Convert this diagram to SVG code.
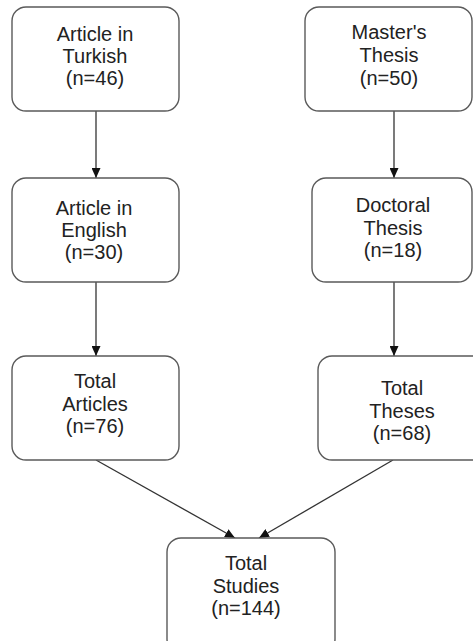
<svg xmlns="http://www.w3.org/2000/svg" width="473" height="641" viewBox="0 0 473 641">
<style>
.box{fill:#fff;stroke:#5a5a5a;stroke-width:1.4}
.lbl{font-family:"Liberation Sans",Arial,sans-serif;font-size:20px;fill:#222;text-anchor:middle}
.conn{stroke:#333;stroke-width:1.3;fill:none;marker-end:url(#ah)}
</style>
<defs>
<marker id="ah" markerUnits="userSpaceOnUse" markerWidth="10" markerHeight="9" refX="10" refY="4.5" orient="auto">
<path d="M0,0 L10,4.5 L0,9 z" fill="#111"/>
</marker>
</defs>
<rect width="473" height="641" fill="#fff"/>
<g id="connectors">
<line class="conn" x1="96" y1="111" x2="96" y2="178"/>
<line class="conn" x1="96" y1="282" x2="96" y2="356"/>
<line class="conn" x1="394" y1="111" x2="394" y2="178"/>
<line class="conn" x1="394" y1="282" x2="394" y2="356"/>
<line class="conn" x1="96" y1="460" x2="235" y2="538"/>
<line class="conn" x1="393" y1="460" x2="259" y2="538"/>
</g>
<g id="article-turkish">
<rect class="box" x="12" y="7" width="167" height="104" rx="14"/>
<text class="lbl"><tspan x="95" y="41">Article in</tspan><tspan x="95" y="63">Turkish</tspan><tspan x="95" y="85">(n=46)</tspan></text>
</g>
<g id="article-english">
<rect class="box" x="12" y="178" width="167" height="104" rx="14"/>
<text class="lbl"><tspan x="94" y="215">Article in</tspan><tspan x="94" y="237">English</tspan><tspan x="94" y="259">(n=30)</tspan></text>
</g>
<g id="total-articles">
<rect class="box" x="12" y="356" width="167" height="104" rx="14"/>
<text class="lbl"><tspan x="95" y="388">Total</tspan><tspan x="95" y="411">Articles</tspan><tspan x="95" y="433">(n=76)</tspan></text>
</g>
<g id="masters-thesis">
<rect class="box" x="305" y="7" width="167" height="104" rx="14"/>
<text class="lbl"><tspan x="389" y="39">Master's</tspan><tspan x="389" y="62">Thesis</tspan><tspan x="389" y="85">(n=50)</tspan></text>
</g>
<g id="doctoral-thesis">
<rect class="box" x="312" y="178" width="160" height="104" rx="14"/>
<text class="lbl"><tspan x="393" y="212">Doctoral</tspan><tspan x="393" y="235">Thesis</tspan><tspan x="393" y="257">(n=18)</tspan></text>
</g>
<g id="total-theses">
<rect class="box" x="318" y="356" width="175" height="104" rx="14"/>
<text class="lbl"><tspan x="402" y="395">Total</tspan><tspan x="402" y="418">Theses</tspan><tspan x="402" y="440">(n=68)</tspan></text>
</g>
<g id="total-studies">
<rect class="box" x="167" y="538" width="168" height="115" rx="14"/>
<text class="lbl"><tspan x="246" y="570">Total</tspan><tspan x="246" y="593">Studies</tspan><tspan x="246" y="615">(n=144)</tspan></text>
</g>
</svg>
